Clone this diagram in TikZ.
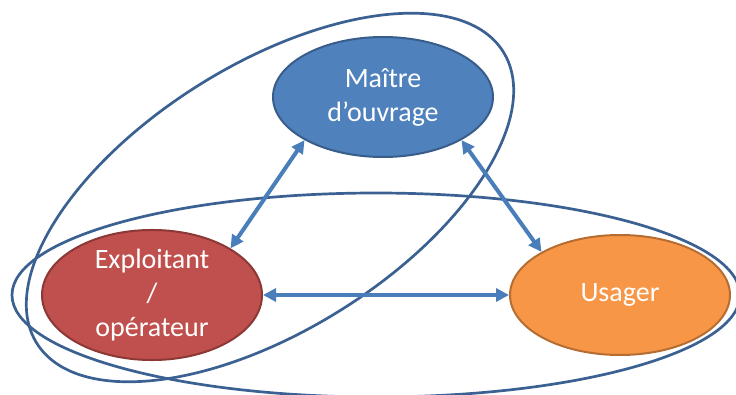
\documentclass[tikz,border=0pt]{standalone}
\usepackage{fontspec}
\setmainfont{Carlito}
\usetikzlibrary{arrows.meta,shapes.geometric}

\definecolor{maitrefill}{HTML}{4F81BD}
\definecolor{maitreline}{HTML}{385D8A}
\definecolor{exploitfill}{HTML}{C0504D}
\definecolor{exploitline}{HTML}{8C3836}
\definecolor{usagerfill}{HTML}{F79646}
\definecolor{usagerline}{HTML}{B66D31}
\definecolor{groupline}{HTML}{3A6191}
\definecolor{linkblue}{HTML}{4A7EBB}

\begin{document}
\begin{tikzpicture}[x=1pt, y=1pt]
    \tikzstyle{actor} = [ellipse, line width=2pt, minimum width=220pt, minimum height=120pt, inner sep=0pt, text=white, align=center, font=\fontsize{28}{34}\selectfont]
    \tikzstyle{group} = [draw=groupline, line width=2.7pt]
    \tikzstyle{link} = [{Triangle[length=13pt,width=13pt]}-{Triangle[length=13pt,width=13pt]}, line width=4pt, draw=linkblue, fill=linkblue]
    \useasboundingbox (0,0) rectangle (736,394);
    % the three actors
    \node[actor, fill=maitrefill, draw=maitreline] (M) at (383,297) {Maître\\d’ouvrage};
    \node[actor, fill=exploitfill, draw=exploitline] (E) at (152,99) {Exploitant\\/\\opérateur};
    \node[actor, fill=usagerfill, draw=usagerline] (U) at (620,99) {Usager};
    % groupings
    \draw[group] (376,99) ellipse [x radius=364, y radius=102];
    \draw[group, rotate around={32:(270,196.5)}] (270,196.5) ellipse [x radius=275, y radius=133];
    % relations
    \draw[link] (E.north east) -- (M.south west);
    \draw[link] (M.south east) -- (U.north west);
    \draw[link] (E.east) -- (U.west);
\end{tikzpicture}
\end{document}
